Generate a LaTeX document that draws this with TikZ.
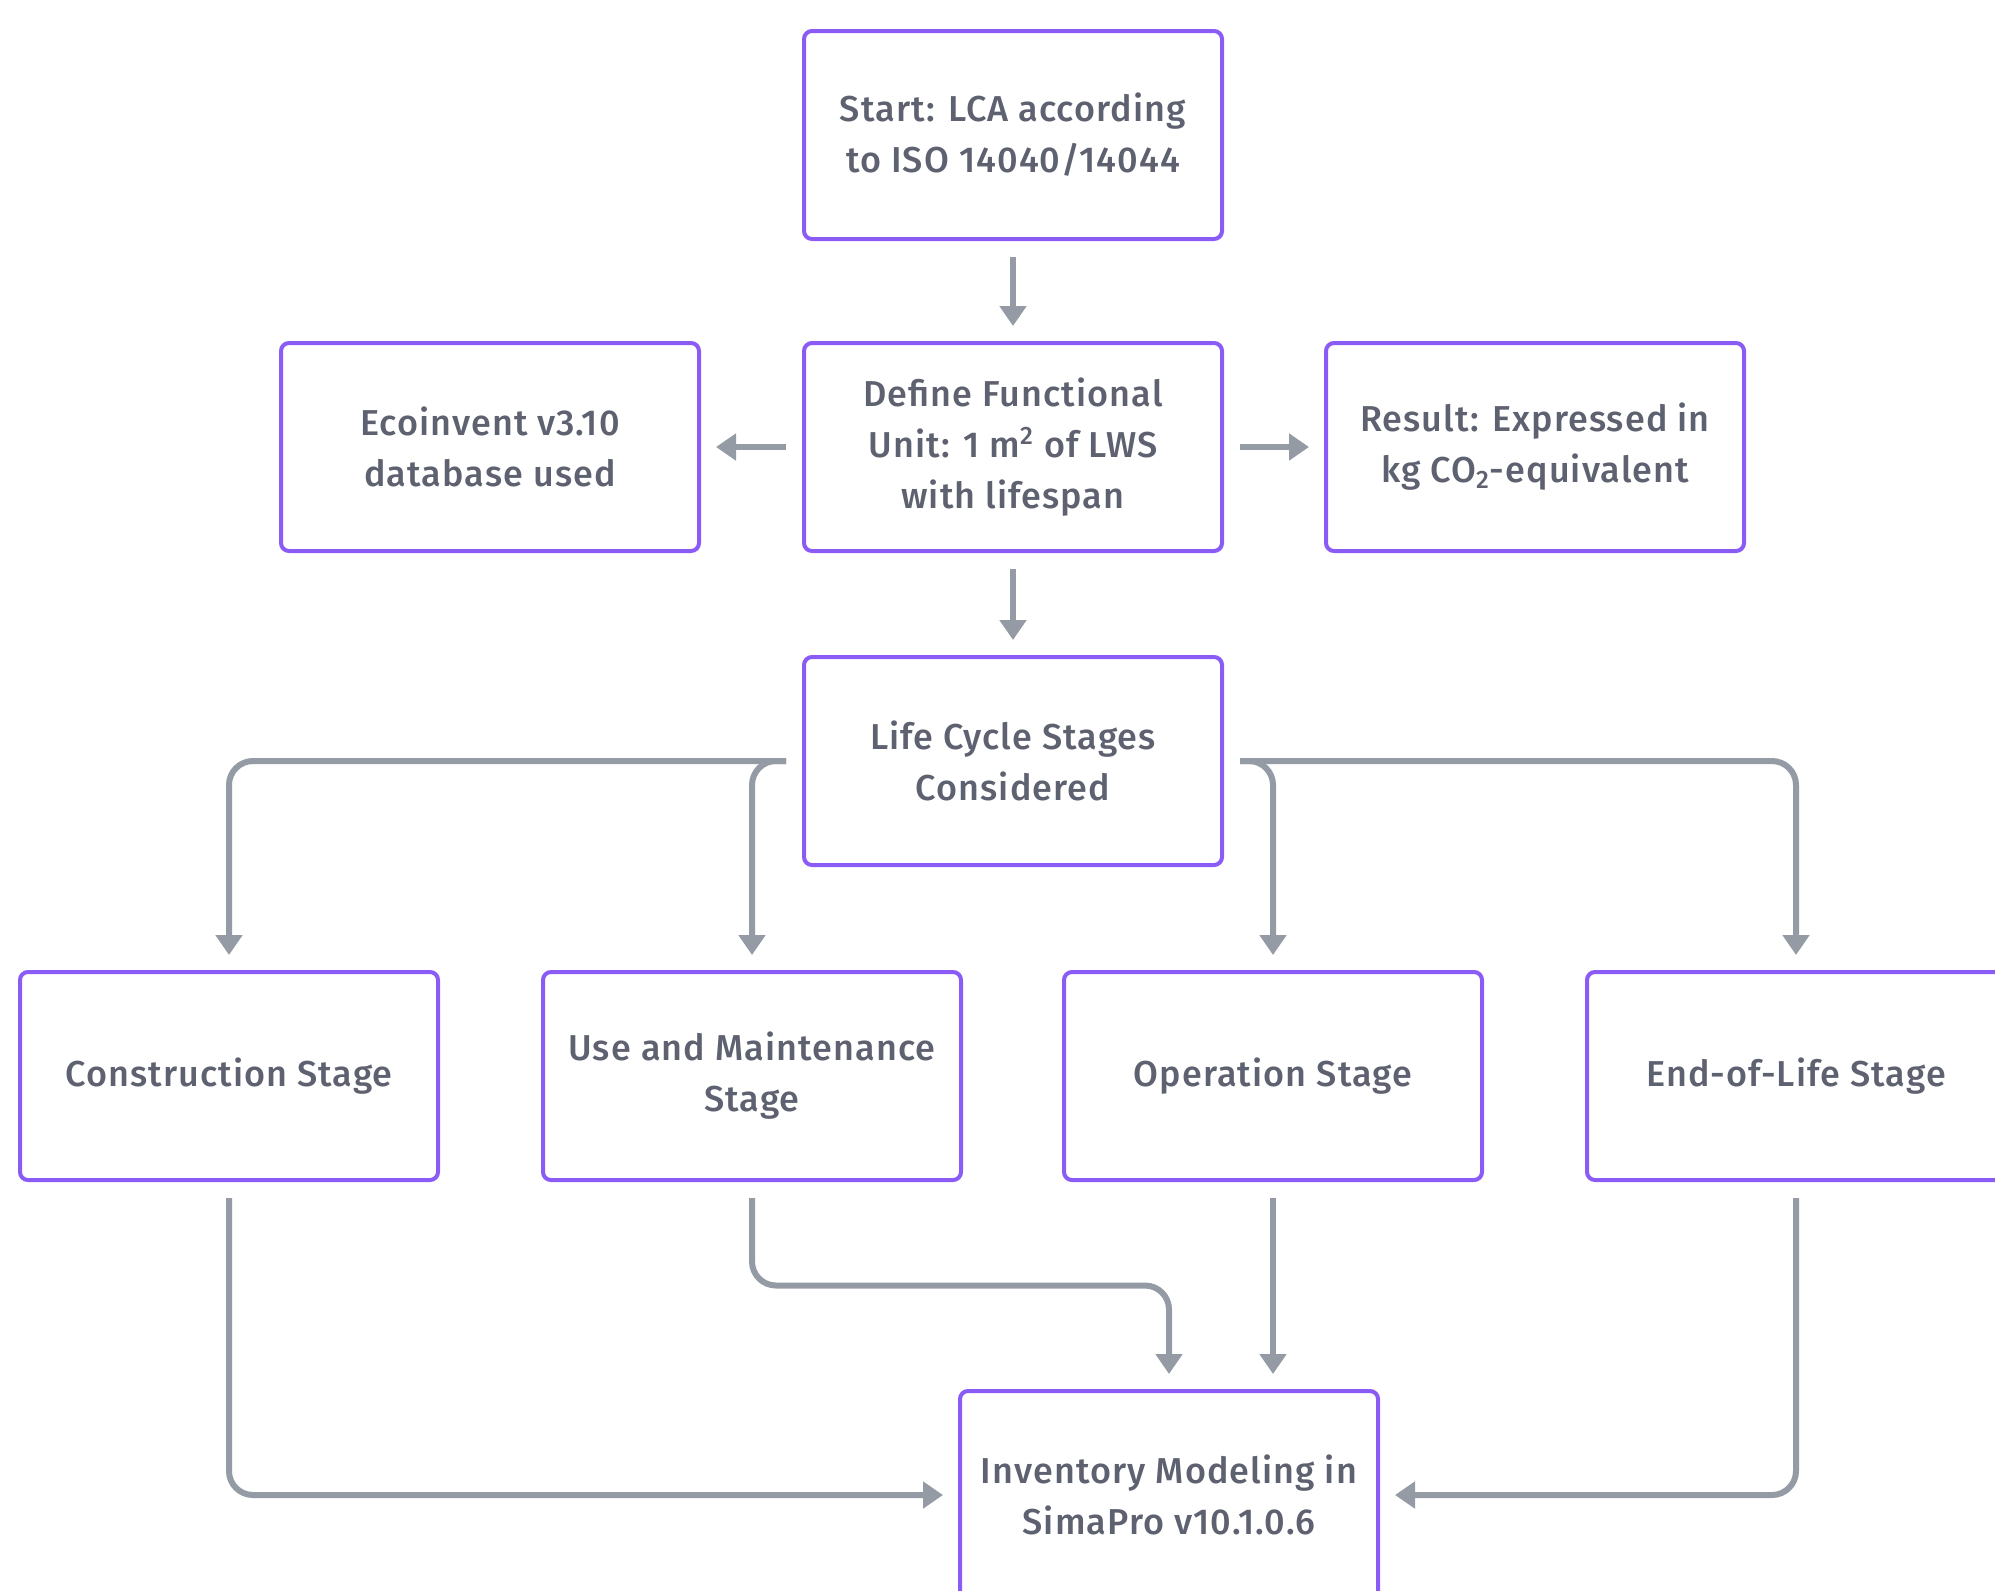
\documentclass[tikz,border=0pt]{standalone}
\usepackage{fontspec}
\setmainfont{Fira Sans Medium}[LetterSpace=3]
\usetikzlibrary{arrows.meta,calc}

\definecolor{boxline}{HTML}{8A5CF5}
\definecolor{flowline}{HTML}{949BA4}
\definecolor{labeltext}{HTML}{5E6270}

\tikzset{
	stagebox/.style={draw=boxline, line width=2pt, rounded corners=4pt,
		minimum width=209pt, minimum height=104pt, inner sep=0pt,
		align=center, text=labeltext, font=\fontsize{18}{25.5}\selectfont},
	flow/.style={draw=flowline, line width=3pt, rounded corners=12pt,
		-{Triangle[length=10pt,width=13pt]}, shorten <=8pt, shorten >=7.5pt}
}

\begin{document}
\begin{tikzpicture}[x=0.5pt,y=-0.5pt]
			\useasboundingbox (0,0) rectangle (1995,1590);
			
			\node[stagebox] (start) at (1013,135) {Start: LCA according\\to ISO 14040/14044};
			\node[stagebox] (unit) at (1013,447) {Define Functional\\Unit: 1 m\textsuperscript{2} of LWS\\with lifespan};
			\node[stagebox] (ecoinvent) at (490,447) {Ecoinvent v3.10\\database used};
			\node[stagebox] (result) at (1535,447) {Result: Expressed in\\kg CO\textsubscript{2}-equivalent};
			\node[stagebox] (stages) at (1013,761) {Life Cycle Stages\\Considered};
			
			\node[stagebox] (construction) at (229,1076) {Construction Stage};
			\node[stagebox] (maintenance) at (752,1076) {Use and Maintenance\\Stage};
			\node[stagebox] (operation) at (1273,1076) {Operation Stage};
			\node[stagebox] (endoflife) at (1796,1076) {End-of-Life Stage};
			
			\node[stagebox] (inventory) at (1169,1495) {Inventory Modeling in\\SimaPro v10.1.0.6};
			
			\draw[flow] (start) -- (unit);
			\draw[flow] (unit) -- (ecoinvent);
			\draw[flow] (unit) -- (result);
			\draw[flow] (unit) -- (stages);
			
			\draw[flow] (stages.west) -| (construction.north);
			\draw[flow] (stages.west) -| (maintenance.north);
			\draw[flow] (stages.east) -| (operation.north);
			\draw[flow] (stages.east) -| (endoflife.north);
			
			\draw[flow] (construction.south) |- (inventory.west);
			\draw[flow] (maintenance.south) |- ($(maintenance.south)!.5!(inventory.north)$) -| (inventory.north);
			\draw[flow] (operation.south) -- (operation.south |- inventory.north);
			\draw[flow] (endoflife.south) |- (inventory.east);
\end{tikzpicture}
\end{document}
